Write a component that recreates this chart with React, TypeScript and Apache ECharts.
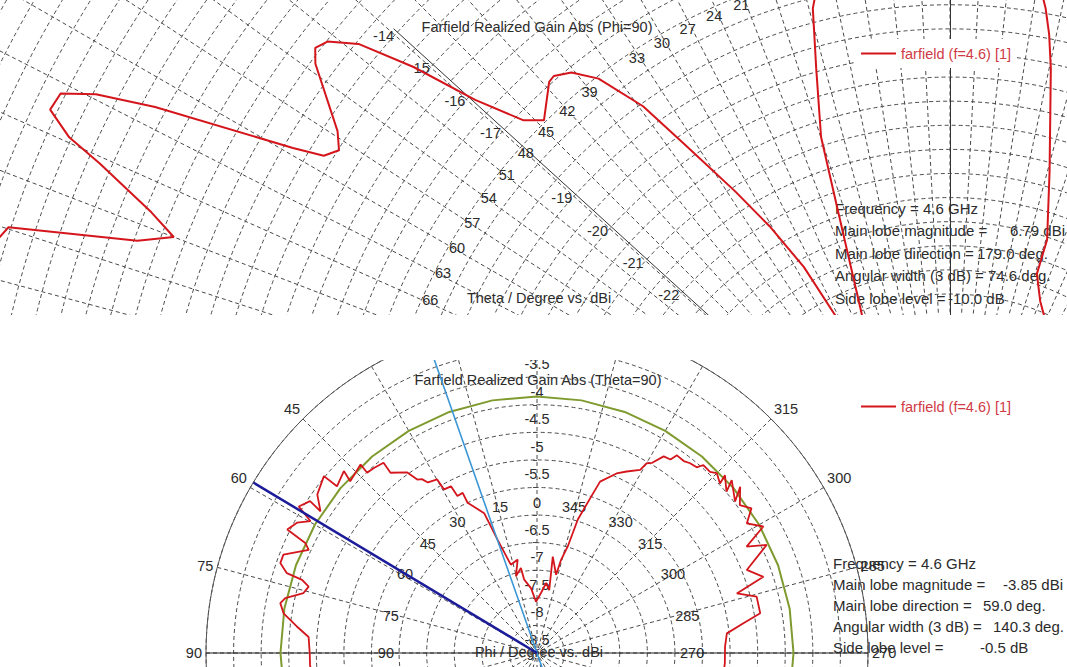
import React, { useEffect, useRef } from 'react';
import * as echarts from 'echarts';

const FONT = '"Liberation Sans", Arial, sans-serif';
const RED = '#d4161c';
const LEGEND_TEXT = '#d03a45';
const TEXT = '#2b2b2b';
const GRID = '#4a4a4a';
const SERIES_NAME = 'farfield (f=4.6) [1]';

// ---------- Top plot: Farfield Realized Gain Abs (Phi=90) ----------
// theta (deg, counter-clockwise from top) and realized gain (dBi)
const topTheta = [78, 74, 71.9, 70.1, 69.0, 68.0, 66.4, 65.7, 64.7, 63.6, 62.7, 61.7, 59.5, 58.8, 57.8, 56.6,
  53.4, 52.5, 51.6, 50.3, 48.9, 47.5, 45.8, 44.4, 41.5, 40.8, 39.3, 37.6, 35.6, 34.2, 32.0, 30.3, 28.6, 27.6,
  26, 24, 21.8, 19.1, 17.95, 16.0, 14.6, 12, 6, 0, 354, 351, 349.7, 348.8, 347.8, 344.7, 341.8, 341.6, 338.9,
  336.4, 333, 325];
const topGain = [-8.5, -8.6, -8.95, -11.57, -12.25, -11.63, -10.25, -9.45, -8.85, -8.9, -9.56, -10.77, -13.68,
  -14.31, -14.52, -14.28, -13.1, -12.9, -13.02, -13.55, -14.73, -16.14, -17.16, -17.46, -16.95, -16.92, -17.1,
  -17.55, -18.56, -19.69, -21.1, -22.08, -23.17, -24.35, -25.6, -26.0, -24.58, -22.42, -20.82, -19.43, -18.21,
  -17.0, -16.2, -16.0, -16.5, -17.8, -18.4, -18.91, -19.6, -21.67, -23.05, -23.79, -24.3, -24.59, -25.4, -26.0];
const topRadialLabels = [-14, -15, -16, -17, -19, -20, -21, -22];
const topAngleLabels = [21, 24, 27, 30, 33, 39, 42, 45, 48, 51, 54, 57, 60, 63, 66];
const topInfoLabels = ['Main lobe magnitude =', 'Main lobe direction =', 'Angular width (3 dB) =', 'Side lobe level ='];
const topInfoValues = ['6.79 dBi', '179.0 deg.', '74.6 deg.', '-10.0 dB'];

// ---------- Bottom plot: Farfield Realized Gain Abs (Theta=90) ----------
const bottomPhi = [96, 93, 90, 86, 83.7, 81.1, 79, 77.7, 75.6, 73.8, 72.7, 72.3, 70.7, 68.8, 65.7, 64.6, 63.7,
  61.5, 59.8, 58.4, 56.2, 56.8, 54.2, 50.3, 50.2, 46.7, 47.4, 43.1, 43.3, 41.4, 38.9, 39.1, 35.7, 34.6, 33.5,
  32.6, 29.9, 29.6, 27.3, 26.9, 24.9, 24.8, 20.7, 19.2, 16.5, 11.7, 15.4, 10.7, 9.9, 5.3, 1.1, 356.2, 352.6,
  349, 350.7, 346.3, 345.5, 343.9, 343, 340.9, 339.8, 336.1, 333.7, 330.6, 330, 328.8, 327.2, 325.4, 324.7,
  322.6, 321.1, 319.3, 318.5, 316.3, 315, 312.8, 313.4, 310.4, 311.6, 307.4, 309.3, 306.1, 304, 301.7, 299.2,
  296.9, 295.2, 291.6, 288.6, 286.6, 284.4, 280.1, 278.2, 275.9, 271.9, 266.9, 262];
const bottomGain = [-4.9, -4.88, -4.88, -4.85, -4.62, -4.35, -4.26, -4.33, -4.63, -4.69, -4.54, -4.24, -4.07,
  -4.07, -4.46, -4.35, -3.95, -4.05, -4.25, -3.93, -4.05, -4.31, -4.09, -3.98, -4.28, -4.19, -4.40, -4.32,
  -4.51, -4.53, -4.57, -4.79, -4.97, -5.18, -5.22, -5.33, -5.37, -5.59, -5.60, -5.81, -5.80, -6.00, -6.29,
  -6.83, -7.33, -7.27, -7.56, -7.43, -7.65, -7.82, -8.07, -7.91, -7.72, -7.84, -7.23, -7.54, -7.25, -6.99,
  -6.47, -6.0, -5.69, -5.44, -5.33, -5.19, -5.03, -4.97, -4.76, -4.74, -4.61, -4.62, -4.58, -4.56, -4.45,
  -4.46, -4.39, -4.48, -4.31, -4.49, -4.28, -4.48, -4.24, -4.45, -4.31, -4.53, -4.30, -4.74, -4.40, -4.91,
  -4.67, -5.22, -4.89, -4.89, -5.22, -5.54, -5.59, -5.59, -5.6];
const bottomRadialLabels = [-3.5, -4, -4.5, -5, -5.5, -6.5, -7, -7.5, -8, -8.5];
const bottomOuterAngleLabels = [45, 60, 75, 90, 270, 285, 300, 315];
const bottomInnerAngleLabels = [0, 15, 30, 45, 60, 75, 90, 270, 285, 300, 315, 330, 345];
const mainLobeDirection = 59.0;
const beamEdgeDirection = 19.3;
const sideLobeCircle = -4.35;
const circleAngles = [0, 10, 20, 30, 40, 50, 60, 70, 80, 90, 100, 110, 120, 130, 140, 150, 160, 170, 180,
  190, 200, 210, 220, 230, 240, 250, 260, 270, 280, 290, 300, 310, 320, 330, 340, 350, 360];
const bottomInfoLabels = ['Main lobe magnitude =', 'Main lobe direction =', 'Angular width (3 dB) =', 'Side lobe level ='];
const bottomInfoValues = ['-3.85 dBi', '59.0 deg.', '140.3 deg.', '-0.5 dB'];

// ---------- layout constants ----------
const TOP_MIN = -29.5;
const TOP_MAX = -6.5;
const TOP_PX = 48.2;
const TOP_CENTER = [950, 535];
const TOP_AXIS_MAX = -13.9;
const TOP_AXIS_ANGLE = 137.7;

const BOT_MIN = -9;
const BOT_MAX = -3;
const BOT_R = 331;
const BOT_CENTER = [537, 293];

const hidden = {
  axisLine: { show: false }, axisTick: { show: false }, axisLabel: { show: false }, splitLine: { show: false },
};

function txt(text: string, x: number, y: number, size = 15, align = 'left', color = TEXT) {
  return {
    type: 'text', x, y, silent: true,
    style: {
      text, fill: color, fontSize: size, fontFamily: FONT,
      textAlign: align, align, textVerticalAlign: 'middle', verticalAlign: 'middle',
    },
  };
}

function legendOpt(top: number) {
  return {
    data: [{ name: SERIES_NAME, icon: 'rect' }], left: 855, top, orient: 'horizontal', backgroundColor: '#ffffff',
    padding: [6, 6, 6, 6], itemWidth: 35, itemHeight: 2, selectedMode: false,
    itemStyle: { color: RED },
    textStyle: { color: LEGEND_TEXT, fontSize: 14.5, fontFamily: FONT, lineHeight: 17 },
  };
}

function topOption() {
  const infoX = 835;
  const rows = [208, 230.5, 253, 275.5, 298];
  const valueX = [1010, 977, 988, 948];
  const graphics: any[] = [
    txt('Farfield Realized Gain Abs (Phi=90)', 537, 27, 14.5, 'center'),
    txt('Theta / Degree vs. dBi', 539, 298, 14.5, 'center'),
    txt('Frequency = 4.6 GHz', infoX, rows[0]),
  ];
  topInfoLabels.forEach((l, i) => {
    graphics.push(txt(l, infoX, rows[i + 1]));
    graphics.push(txt(topInfoValues[i], valueX[i], rows[i + 1]));
  });
  return {
    animation: false,
    textStyle: { fontFamily: FONT },
    legend: legendOpt(39),
    polar: [
      { center: TOP_CENTER, radius: (TOP_MAX - TOP_MIN) * TOP_PX },
      { center: TOP_CENTER, radius: (TOP_AXIS_MAX - TOP_MIN) * TOP_PX },
      { center: TOP_CENTER, radius: 555 },
    ],
    angleAxis: [
      {
        polarIndex: 0, type: 'value', min: 0, max: 360, interval: 3, startAngle: 90, clockwise: false,
        axisLine: { show: false }, axisTick: { show: false }, axisLabel: { show: false },
        splitLine: { show: true, lineStyle: { color: GRID, width: 1, type: [4, 3] } },
      },
      { polarIndex: 1, type: 'value', min: 0, max: 360, startAngle: TOP_AXIS_ANGLE, clockwise: false, ...hidden },
      {
        polarIndex: 2, type: 'value', min: 0, max: 360, interval: 3, startAngle: 90, clockwise: false,
        axisLine: { show: false }, axisTick: { show: false }, splitLine: { show: false },
        axisLabel: {
          show: true, margin: 5, fontSize: 14.5, color: TEXT, fontFamily: FONT,
          formatter: (v: number) => (topAngleLabels.includes(v) ? String(v) : ''),
        },
      },
    ],
    radiusAxis: [
      {
        polarIndex: 0, type: 'value', min: TOP_MIN, max: TOP_MAX, interval: 0.5,
        axisLine: { show: true, lineStyle: { color: '#333', width: 1 } },
        axisTick: { show: false }, axisLabel: { show: false },
        splitLine: { show: true, lineStyle: { color: GRID, width: 1, type: [4, 3] } },
      },
      {
        polarIndex: 1, type: 'value', min: TOP_MIN, max: TOP_AXIS_MAX, interval: 0.5,
        axisLine: { show: true, lineStyle: { color: '#333', width: 1 } },
        axisTick: { show: false }, splitLine: { show: false },
        axisLabel: {
          show: true, margin: 5, fontSize: 14.5, color: TEXT, fontFamily: FONT, align: 'right', verticalAlign: 'middle',
          formatter: (v: number) => (topRadialLabels.includes(v) ? (v === -15 ? '15' : String(v)) : ''),
        },
      },
      { polarIndex: 2, type: 'value', min: 0, max: 1, ...hidden },
    ],
    series: [
      {
        type: 'line', name: SERIES_NAME, coordinateSystem: 'polar', polarIndex: 0, symbol: 'none', clip: false,
        lineStyle: { color: RED, width: 2 }, itemStyle: { color: RED },
        data: topTheta.map((t, i) => [topGain[i], t]),
      },
    ],
    graphic: graphics,
  };
}

function bottomOption() {
  const infoX = 833;
  const rows = [203, 224, 245, 266, 287];
  const valueX = [1003, 983, 993, 980];
  const graphics: any[] = [
    txt('Farfield Realized Gain Abs (Theta=90)', 538, 20, 14.5, 'center'),
    txt('Phi / Degree vs. dBi', 539, 292, 14.5, 'center'),
    txt('Frequency = 4.6 GHz', infoX, rows[0]),
  ];
  bottomInfoLabels.forEach((l, i) => {
    graphics.push(txt(l, infoX, rows[i + 1]));
    graphics.push(txt(bottomInfoValues[i], valueX[i], rows[i + 1]));
  });
  return {
    animation: false,
    textStyle: { fontFamily: FONT },
    legend: legendOpt(32),
    polar: [
      { center: BOT_CENTER, radius: BOT_R },
      { center: BOT_CENTER, radius: 138 },
    ],
    angleAxis: [
      {
        polarIndex: 0, type: 'value', min: 0, max: 360, interval: 15, startAngle: 90, clockwise: false,
        axisLine: { show: true, lineStyle: { color: '#555', width: 1 } }, axisTick: { show: false },
        axisLabel: {
          show: true, margin: 4, fontSize: 14.5, color: TEXT, fontFamily: FONT,
          formatter: (v: number) => (bottomOuterAngleLabels.includes(v) ? String(v) : ''),
        },
        splitLine: { show: true, lineStyle: { color: GRID, width: 1, type: [4, 3] } },
      },
      {
        polarIndex: 1, type: 'value', min: 0, max: 360, interval: 15, startAngle: 90, clockwise: false,
        axisLine: { show: false }, axisTick: { show: false }, splitLine: { show: false },
        axisLabel: {
          show: true, margin: 5, fontSize: 14.5, color: TEXT, fontFamily: FONT,
          formatter: (v: number) => (v < 360 && bottomInnerAngleLabels.includes(v) ? String(v) : ''),
        },
      },
    ],
    radiusAxis: [
      {
        polarIndex: 0, type: 'value', min: BOT_MIN, max: BOT_MAX, interval: 0.5,
        axisLine: { show: false },
        axisTick: { show: true, length: 4, lineStyle: { color: GRID } },
        axisLabel: {
          show: true, margin: 0, align: 'center', verticalAlign: 'top', padding: [7, 0, 0, 0],
          fontSize: 14.5, color: TEXT, fontFamily: FONT,
          formatter: (v: number) => (bottomRadialLabels.includes(v) ? String(v) : ''),
        },
        splitLine: { show: true, lineStyle: { color: GRID, width: 1, type: [4, 3] } },
      },
      { polarIndex: 1, type: 'value', min: 0, max: 1, ...hidden },
    ],
    series: [
      {
        type: 'line', name: 'diameter', coordinateSystem: 'polar', polarIndex: 0, symbol: 'none', silent: true, z: 1,
        lineStyle: { color: '#1e1e1e', width: 1 },
        data: [[BOT_MAX, 90], [BOT_MIN, 90], [BOT_MAX, 270]],
      },
      {
        type: 'line', name: 'side lobe', coordinateSystem: 'polar', polarIndex: 0, symbol: 'none', silent: true, z: 1,
        lineStyle: { color: '#7f9a2e', width: 2 },
        data: circleAngles.map((a) => [sideLobeCircle, a]),
      },
      {
        type: 'line', name: SERIES_NAME, coordinateSystem: 'polar', polarIndex: 0, symbol: 'none', z: 3,
        lineStyle: { color: RED, width: 1.8 }, itemStyle: { color: RED },
        data: bottomPhi.map((p, i) => [bottomGain[i], p]),
      },
      {
        type: 'line', name: 'beam', coordinateSystem: 'polar', polarIndex: 0, symbol: 'none', silent: true, z: 4,
        lineStyle: { color: '#3b97d6', width: 1.6 },
        data: [[BOT_MAX, beamEdgeDirection], [BOT_MIN, beamEdgeDirection], [BOT_MAX, beamEdgeDirection + 180]],
      },
      {
        type: 'line', name: 'main lobe', coordinateSystem: 'polar', polarIndex: 0, symbol: 'none', silent: true, z: 4,
        lineStyle: { color: '#1c1c9a', width: 2.5 },
        data: [[BOT_MAX, mainLobeDirection], [BOT_MIN, mainLobeDirection]],
      },
    ],
    graphic: graphics,
  };
}

export default function App() {
  const topRef = useRef<HTMLDivElement>(null);
  const botRef = useRef<HTMLDivElement>(null);
  useEffect(() => {
    const top = echarts.init(topRef.current!, null, { renderer: 'svg' });
    const bot = echarts.init(botRef.current!, null, { renderer: 'svg' });
    top.setOption(topOption() as any);
    bot.setOption(bottomOption() as any);
    return () => {
      top.dispose();
      bot.dispose();
    };
  }, []);
  return (
    <div style={{ position: 'fixed', left: 0, top: 0, width: 1067, height: 667, background: '#fff', overflow: 'hidden' }}>
      <div ref={topRef} style={{ position: 'absolute', left: 0, top: 0, width: 1067, height: 315, overflow: 'hidden' }} />
      <div ref={botRef} style={{ position: 'absolute', left: 0, top: 360, width: 1067, height: 307, overflow: 'hidden' }} />
    </div>
  );
}
